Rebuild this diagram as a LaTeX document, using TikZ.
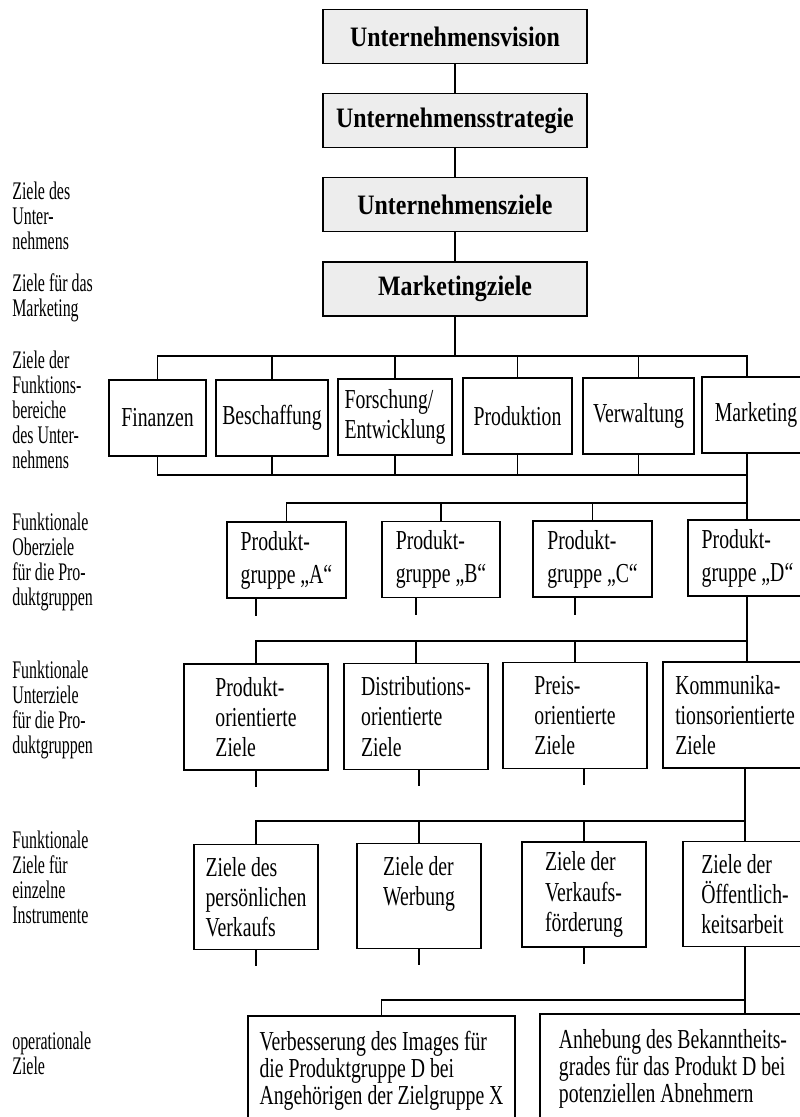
\documentclass[tikz,border=0pt]{standalone}
\usepackage{fontspec}
\setmainfont{Liberation Serif}
\newfontfamily\titlefont{Liberation Serif}[FakeStretch=0.85]
\newfontfamily\boxfont{Liberation Serif}[FakeStretch=0.72]
\newfontfamily\sidefont{Liberation Serif}[FakeStretch=0.63]
\usepackage{tikz}
\newcommand{\pxu}{0.025cm}
\tikzset{
	topbox/.style={draw, line width=1.1pt, fill=gray!14, inner sep=0pt,
		minimum width=264*\pxu, minimum height=54*\pxu,
		font=\titlefont\bfseries\fontsize{20}{22}\selectfont},
	goalbox/.style={draw, line width=1.1pt, inner sep=0pt, align=left,
		font=\boxfont\fontsize{19.5}{#1}\selectfont},
	goalbox/.default=21.5,
	wh/.style 2 args={minimum width=#1*\pxu, minimum height=#2*\pxu},
	sidelabel/.style={anchor=north west, inner sep=0pt, align=left,
		font=\sidefont\fontsize{18}{17.8}\selectfont},
	link/.style={line width=0.8pt},
}

\begin{document}
\begin{tikzpicture}[x=\pxu, y=-\pxu]
	\useasboundingbox (0,0) rectangle (800,1117);
	\clip (0,0) rectangle (800,1117);
	%
	\node [sidelabel] (lunt) at (12,182) {Ziele des\\Unter-\\nehmens};
	\node [sidelabel] (lmkt) at (12,273) {Ziele für das\\Marketing};
	\node [sidelabel] (lfkt) at (12,351) {Ziele der\\Funktions-\\bereiche\\des Unter-\\nehmens};
	\node [sidelabel] (lober) at (12,513) {Funktionale\\Oberziele\\für die Pro-\\duktgruppen};
	\node [sidelabel] (lunter) at (12,661) {Funktionale\\Unterziele\\für die Pro-\\duktgruppen};
	\node [sidelabel] (linstr) at (12,831) {Funktionale\\Ziele für\\einzelne\\Instrumente};
	\node [sidelabel] (lop) at (12,1032) {operationale\\Ziele};
	%
	\node [topbox] (vision) at (455,36.5) {Unternehmensvision};
	\node [topbox] (strat) at (455,120.5) {Unternehmensstrategie};
	\node [topbox] (uziele) at (455,204.5) {Unternehmensziele};
	\node [topbox] (mziele) at (455,289) {Marketingziele};
	%
	\node [goalbox, wh={97}{76}] (fin) at (157.5,418) {Finanzen};
	\node [goalbox, wh={112}{76}] (besch) at (272,418) {Beschaffung};
	\node [goalbox, wh={114}{76}] (fe) at (395,417) {Forschung/\\Entwicklung};
	\node [goalbox, wh={109}{76}] (prod) at (517.5,416) {Produktion};
	\node [goalbox, wh={111}{76}] (verw) at (638.5,416) {Verwaltung};
	\node [goalbox, wh={108}{76}] (mkt) at (756,415) {Marketing};
	%
	\node [goalbox=23.5, wh={119}{76}] (pa) at (286.5,560) {Produkt-\\gruppe „A“};
	\node [goalbox=23.5, wh={118}{76}] (pb) at (441,559.5) {Produkt-\\gruppe „B“};
	\node [goalbox=23.5, wh={119}{76}] (pc) at (592.5,559) {Produkt-\\gruppe „C“};
	\node [goalbox=23.5, wh={119}{76}] (pd) at (747.5,558) {Produkt-\\gruppe „D“};
	%
	\node [goalbox, wh={144}{106}] (zprod) at (256,717) {Produkt-\\orientierte\\Ziele};
	\node [goalbox, wh={144}{106}] (zdist) at (416,716.5) {Distributions-\\orientierte\\Ziele};
	\node [goalbox, wh={144}{106}] (zpreis) at (575,715.5) {Preis-\\orientierte\\Ziele};
	\node [goalbox, wh={144}{106}] (zkomm) at (735,715) {Kommunika-\\tionsorientierte\\Ziele};
	%
	\node [goalbox, wh={124}{105}] (ipers) at (256,897) {Ziele des\\persönlichen\\Verkaufs};
	\node [goalbox, wh={124}{105}] (iwerb) at (419,896) {Ziele der\\Werbung\\\mbox{}};
	\node [goalbox, wh={124}{105}] (ivkf) at (584,894.5) {Ziele der\\Verkaufs-\\förderung};
	\node [goalbox, wh={124}{105}] (ioeff) at (745,894) {Ziele der\\Öffentlich-\\keitsarbeit};
	%
	\node [goalbox=19, wh={267}{110}] (oimage) at (381.5,1071) {Verbesserung des Images für\\die Produktgruppe D bei\\Angehörigen der Zielgruppe X};
	\node [goalbox=19, wh={266}{110}] (obek) at (673,1069) {Anhebung des Bekanntheits-\\grades für das Produkt D bei\\potenziellen Abnehmern};
	%
	\coordinate (bara) at (747,356);
	\coordinate (barb) at (747,475);
	\coordinate (barc) at (747,503);
	\coordinate (bard) at (747,641);
	\coordinate (bare) at (745,821);
	\coordinate (barf) at (745,1000);
	%
	\draw [link] (vision) to (strat);
	\draw [link] (strat) to (uziele);
	\draw [link] (uziele) to (mziele);
	\draw [link] (mziele) to (mziele |- bara);
	%
	\draw [link] (fin.north) -- (fin.north |- bara) -- (bara) -- (bara |- mkt.north);
	\foreach \n in {besch,fe,prod,verw}
		\draw [link] (\n.north) -- (\n.north |- bara);
	\draw [link] (fin.south) -- (fin.south |- barb) -- (barb);
	\foreach \n in {besch,fe,prod,verw}
		\draw [link] (\n.south) -- (\n.south |- barb);
	\draw [link] (bara |- mkt.south) -- (barc);
	%
	\draw [link] (pa.north) -- (pa.north |- barc) -- (barc) -- (barc |- pd.north);
	\foreach \n in {pb,pc}
		\draw [link] (\n.north) -- (\n.north |- barc);
	\foreach \a/\b in {pa/zprod,pb/zdist,pc/zpreis}
		\draw [link] (\a.south -| \b.north) -- ++(0,17);
	\draw [link] (bard |- pd.south) -- (bard);
	%
	\draw [link] (zprod.north) -- (zprod.north |- bard) -- (bard) -- (bard |- zkomm.north);
	\foreach \n in {zdist,zpreis}
		\draw [link] (\n.north) -- (\n.north |- bard);
	\foreach \a/\b in {zprod/ipers,zdist/iwerb,zpreis/ivkf}
		\draw [link] (\a.south -| \b.north) -- ++(0,16);
	\draw [link] (bare |- zkomm.south) -- (bare) -- (bare |- ioeff.north);
	%
	\draw [link] (ipers.north) -- (ipers.north |- bare) -- (bare);
	\foreach \n in {iwerb,ivkf}
		\draw [link] (\n.north) -- (\n.north |- bare);
	\foreach \n in {ipers,iwerb,ivkf}
		\draw [link] (\n.south) -- ++(0,16);
	\draw [link] (barf |- ioeff.south) -- (barf) -- (barf |- obek.north);
	\draw [link] (oimage.north) -- (oimage.north |- barf) -- (barf);
\end{tikzpicture}
\end{document}
